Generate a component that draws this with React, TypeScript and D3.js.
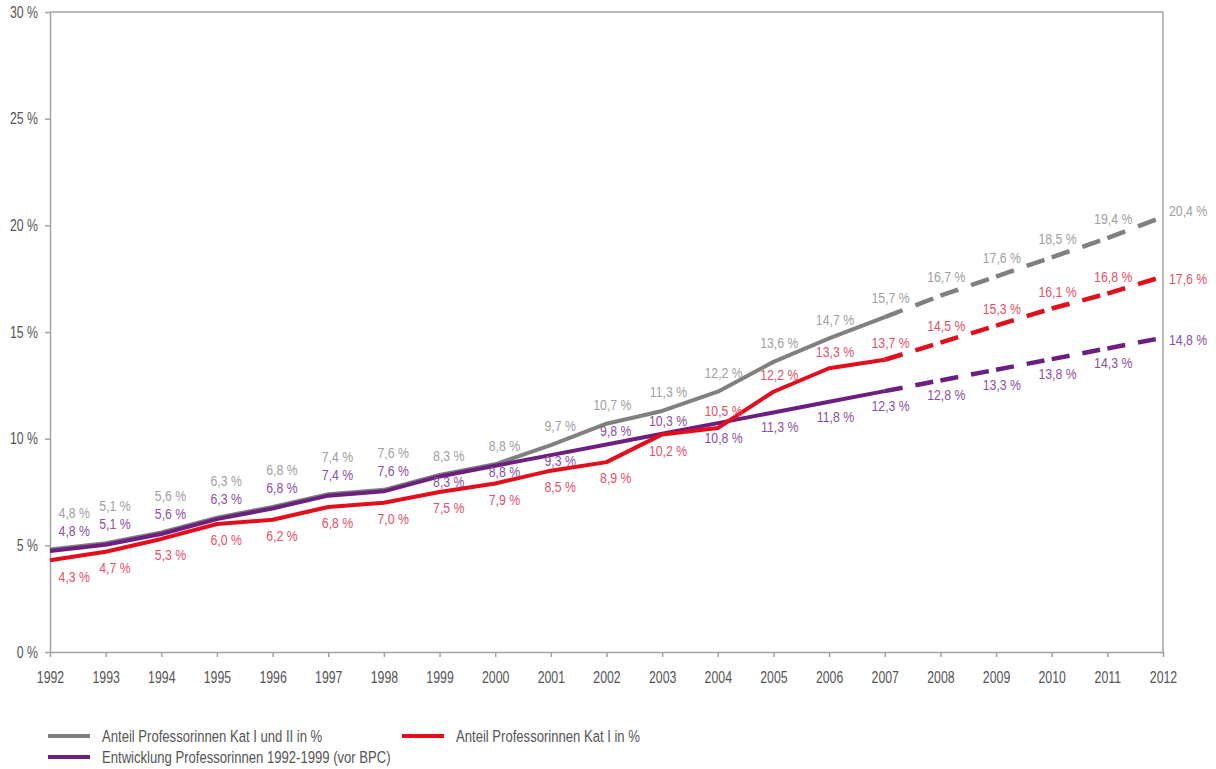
import React, { useEffect, useRef } from 'react';
import * as d3 from 'd3';

const years = [
  1992, 1993, 1994, 1995, 1996, 1997, 1998, 1999, 2000, 2001, 2002,
  2003, 2004, 2005, 2006, 2007, 2008, 2009, 2010, 2011, 2012,
];
// Anteil Professorinnen Kat I und II in %
const greyValues = [
  4.8, 5.1, 5.6, 6.3, 6.8, 7.4, 7.6, 8.3, 8.8, 9.7, 10.7,
  11.3, 12.2, 13.6, 14.7, 15.7, 16.7, 17.6, 18.5, 19.4, 20.4,
];
// Anteil Professorinnen Kat I in %
const redValues = [
  4.3, 4.7, 5.3, 6.0, 6.2, 6.8, 7.0, 7.5, 7.9, 8.5, 8.9,
  10.2, 10.5, 12.2, 13.3, 13.7, 14.5, 15.3, 16.1, 16.8, 17.6,
];
// Entwicklung Professorinnen 1992-1999 (vor BPC)
const purpleValues = [
  4.8, 5.1, 5.6, 6.3, 6.8, 7.4, 7.6, 8.3, 8.8, 9.3, 9.8,
  10.3, 10.8, 11.3, 11.8, 12.3, 12.8, 13.3, 13.8, 14.3, 14.8,
];
const yTicks = [0, 5, 10, 15, 20, 25, 30];
const lastActualYear = 2007;

const legendLabels = {
  grey: 'Anteil Professorinnen Kat I und II in %',
  red: 'Anteil Professorinnen Kat I in %',
  purple: 'Entwicklung Professorinnen 1992-1999 (vor BPC)',
};

// no condensed font is installed, so Liberation Sans is squeezed horizontally
const FONT = "'Liberation Sans', Arimo, Arial, sans-serif";
const SQUEEZE = 0.77;
const LABEL_SQUEEZE = 0.82;

interface Series {
  key: string;
  values: number[];
  line: string;
  label: string;
  shift: number;
  dy: (i: number) => number;
  endDy: number;
}

const fmt = (v: number) => `${v.toFixed(1).replace('.', ',')} %`;

const App: React.FC = () => {
  const svgRef = useRef<SVGSVGElement>(null);
  const width = 1216;
  const height = 769;

  useEffect(() => {
    if (!svgRef.current) return;
    const root = d3.select(svgRef.current);
    root.selectAll('*').remove();

    const x = d3.scaleLinear().domain([1992, 2012]).range([50, 1163]);
    const y = d3.scaleLinear().domain([0, 30]).range([652, 12]);

    const axisColor = '#a3a3a3';
    const textColor = '#555';

    // places a squeezed text at (px, py)
    const addText = (
      parent: d3.Selection<any, unknown, null, undefined>,
      px: number,
      py: number,
      txt: string,
      anchor: string,
      fill: string,
      size: number,
      squeeze: number
    ) =>
      parent
        .append('text')
        .attr('transform', `translate(${px},${py}) scale(${squeeze},1)`)
        .attr('dy', '0.35em')
        .attr('text-anchor', anchor)
        .attr('font-family', FONT)
        .attr('font-size', size)
        .attr('fill', fill)
        .text(txt);

    // frame: top and right border
    root
      .append('line')
      .attr('x1', x(1992))
      .attr('x2', x(2012))
      .attr('y1', y(30))
      .attr('y2', y(30))
      .attr('stroke', axisColor)
      .attr('stroke-width', 1.5);
    root
      .append('line')
      .attr('x1', x(2012))
      .attr('x2', x(2012))
      .attr('y1', y(30))
      .attr('y2', y(0))
      .attr('stroke', axisColor)
      .attr('stroke-width', 1.5);

    // y axis
    const yAxis = root
      .append('g')
      .attr('transform', `translate(${x(1992)},0)`)
      .call(
        d3
          .axisLeft(y)
          .tickValues(yTicks)
          .tickSize(5)
          .tickSizeOuter(0)
          .tickPadding(7)
          .tickFormat((d) => `${d} %`)
      );
    yAxis.selectAll('.tick text').attr('x', -12 / SQUEEZE);

    // x axis
    const xAxis = root
      .append('g')
      .attr('transform', `translate(0,${y(0)})`)
      .call(
        d3
          .axisBottom(x)
          .tickValues(years)
          .tickSize(5)
          .tickSizeOuter(0)
          .tickPadding(15)
          .tickFormat((d) => `${d}`)
      );

    [yAxis, xAxis].forEach((ax) => {
      ax.select('.domain').attr('stroke', axisColor).attr('stroke-width', 1.5);
      ax.selectAll('.tick line').attr('stroke', axisColor).attr('stroke-width', 1.5);
      ax.selectAll('.tick text')
        .attr('fill', textColor)
        .attr('font-family', FONT)
        .attr('font-size', 16)
        .attr('transform', `scale(${SQUEEZE},1)`);
    });

    const series: Series[] = [
      {
        key: 'grey',
        values: greyValues,
        line: '#808080',
        label: '#a0a0a0',
        shift: 0,
        dy: (i) => (i <= 6 ? -37 : -19),
        endDy: -6,
      },
      {
        key: 'purple',
        values: purpleValues,
        line: '#6c1f7e',
        label: '#8c4f9f',
        shift: 1.5,
        dy: (i) => (i <= 6 ? -19 : i <= 9 ? 7 : i <= 11 ? -12 : 16),
        endDy: 3,
      },
      {
        key: 'red',
        values: redValues,
        line: '#e30d1c',
        label: '#e5506a',
        shift: 0,
        dy: (i) => (i <= 11 ? 16 : -17),
        endDy: 2,
      },
    ];

    const line = d3
      .line<[number, number]>()
      .x((d) => x(d[0]))
      .y((d) => y(d[1]));

    series.forEach((s) => {
      const pts: [number, number][] = years.map((yr, i) => [yr, s.values[i]]);
      const cut = years.indexOf(lastActualYear);
      const g = root.append('g').attr('transform', `translate(0,${s.shift})`);

      g.append('path')
        .attr('d', line(pts.slice(0, cut + 1)))
        .attr('fill', 'none')
        .attr('stroke', s.line)
        .attr('stroke-width', 4)
        .attr('stroke-linejoin', 'round');

      // forecast: each yearly segment carries two dashes
      for (let i = cut; i < pts.length - 1; i++) {
        g.append('path')
          .attr('d', line([pts[i], pts[i + 1]]))
          .attr('pathLength', 100)
          .attr('fill', 'none')
          .attr('stroke', s.line)
          .attr('stroke-width', 4.5)
          .attr('stroke-dasharray', '32 23 32 13');
      }
    });

    // value labels
    series.forEach((s) => {
      const last = years.length - 1;
      const g = root.append('g');
      s.values.forEach((v, i) => {
        const px = x(years[i]);
        if (i === last) {
          addText(g, px + 6, y(v) + s.endDy, fmt(v), 'start', s.label, 15, LABEL_SQUEEZE);
        } else {
          addText(
            g,
            px + (i === 0 ? 40 : 25),
            y(v) + s.dy(i),
            fmt(v),
            'end',
            s.label,
            15,
            LABEL_SQUEEZE
          );
        }
      });
    });

    // legend
    const legendItems = [
      { text: legendLabels.grey, color: '#808080', lx: 48, ly: 736 },
      { text: legendLabels.red, color: '#e30d1c', lx: 402, ly: 736 },
      { text: legendLabels.purple, color: '#6c1f7e', lx: 48, ly: 757 },
    ];
    const legend = root.append('g');
    legendItems.forEach((it) => {
      legend
        .append('line')
        .attr('x1', it.lx)
        .attr('x2', it.lx + 42)
        .attr('y1', it.ly)
        .attr('y2', it.ly)
        .attr('stroke', it.color)
        .attr('stroke-width', 4);
      addText(legend, it.lx + 54, it.ly, it.text, 'start', textColor, 17, SQUEEZE);
    });
  }, []);

  return (
    <svg
      ref={svgRef}
      width={width}
      height={height}
      style={{ position: 'absolute', left: 0, top: 0, background: '#fff' }}
    />
  );
};

export default App;
